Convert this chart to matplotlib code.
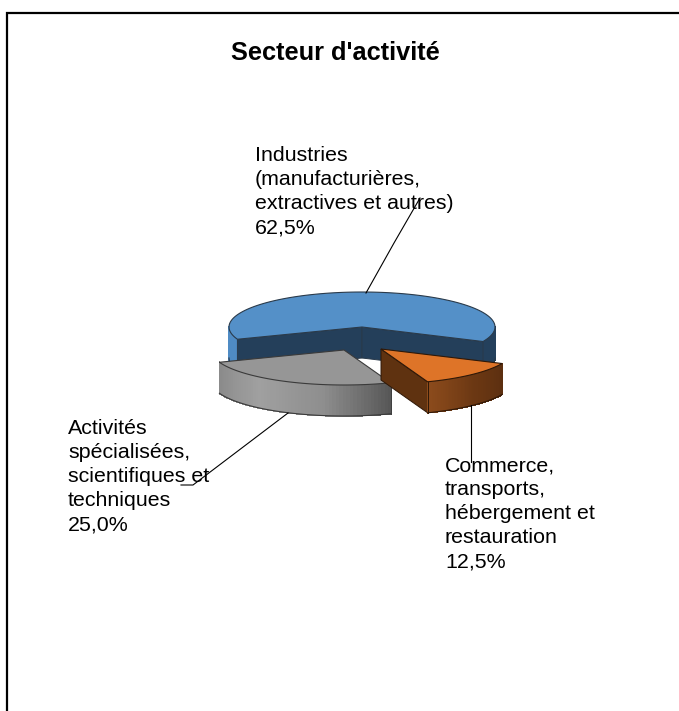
# Secteur d'activité - pseudo 3D exploded pie, drawn in pixel coordinates
import numpy as np
import matplotlib
matplotlib.use('Agg')
import matplotlib.pyplot as plt
from matplotlib.patches import Polygon
from matplotlib.colors import to_rgb

plt.rcParams['font.family'] = ['Liberation Sans', 'DejaVu Sans']

# data
sectors = ['Industries\n(manufacturières,\nextractives et autres)',
           'Commerce,\ntransports,\nhébergement et\nrestauration',
           'Activités\nspécialisées,\nscientifiques et\ntechniques']
shares = [62.5, 12.5, 25.0]
share_labels = ['62,5%', '12,5%', '25,0%']
title = "Secteur d'activité"

# layout, in pixels of the 679x711 picture
W, H = 679, 711
RX, RY, DEPTH = 133, 35, 31
START = 159.5
apexes = [(362, 327), (381, 349), (344, 350)]
label_pos = [(255, 146), (445, 456), (68, 419)]
leaders = [[(366, 293), (394, 243), (420, 198)],
           [(471, 405), (471, 462)],
           [(288, 413), (193, 485), (181, 485)]]
top_colors = ['#5490C8', '#DE7428', '#969696']
side_stops = [['#4F8BC4', '#24405C'],
              ['#8C4B1C', '#6C3813', '#5C2F10'],
              ['#8A8A8A', '#A0A0A0', '#8E8E8E', '#565656']]
edge_colors = ['#2A3A4A', '#2E1808', '#3A3A3A']
wall_colors = ['#243F5A', '#5F3210', None]

fig = plt.figure(figsize=(W / 100, H / 100), dpi=100)
ax = fig.add_axes([0, 0, 1, 1])
ax.set_xlim(0, W)
ax.set_ylim(H, 0)
ax.axis('off')

# frame runs off the right and bottom of the picture
ax.plot([W + 5, 7, 7], [13, 13, H + 5], color='black', lw=1.6, solid_joinstyle='miter')


def rim(apex, t0, t1, n=60):
    t = np.radians(np.linspace(t0, t1, n))
    return apex[0] + RX * np.cos(t), apex[1] + RY * np.sin(t)


def ramp(stops, f):
    pos = np.linspace(0, 1, len(stops))
    rgb = np.array([to_rgb(c) for c in stops])
    return [np.interp(f, pos, rgb[:, i]) for i in range(3)]


def outer_wall(apex, t0, t1, stops, edge, z):
    if t1 <= t0:
        return
    x, y = rim(apex, t0, t1)
    for i in range(len(x) - 1):
        quad = [(x[i], y[i]), (x[i + 1], y[i + 1]),
                (x[i + 1], y[i + 1] + DEPTH), (x[i], y[i] + DEPTH)]
        f = 1 - (i + 0.5) / (len(x) - 1)
        col = ramp(stops, f)
        ax.add_patch(Polygon(quad, fc=col, ec=col, lw=0.5, antialiased=False, zorder=z))
    ax.plot(x, y + DEPTH, color=edge, lw=0.8, zorder=z + 0.2)


def radial_wall(apex, t, color, edge, z):
    ex = apex[0] + RX * np.cos(np.radians(t))
    ey = apex[1] + RY * np.sin(np.radians(t))
    pts = [apex, (ex, ey), (ex, ey + DEPTH), (apex[0], apex[1] + DEPTH)]
    ax.add_patch(Polygon(pts, fc=color, ec=edge, lw=0.7, zorder=z))


def top_face(apex, t0, t1, color, edge, z):
    x, y = rim(apex, t0, t1, 120)
    pts = [apex] + list(zip(x, y))
    ax.add_patch(Polygon(pts, fc=color, ec=edge, lw=0.8, zorder=z))


angles = START + np.concatenate([[0], np.cumsum(shares)]) * 3.6

# blue slice: back part, both cut walls and the bits of rim that show
a0, a1 = angles[0], angles[1]
apex = apexes[0]
outer_wall(apex, a0, 180, [side_stops[0][0], side_stops[0][0]], edge_colors[0], 1)
outer_wall(apex, 360, a1, [side_stops[0][1], side_stops[0][1]], edge_colors[0], 1)
radial_wall(apex, a0, wall_colors[0], edge_colors[0], 1.5)
radial_wall(apex, a1, wall_colors[0], edge_colors[0], 1.5)
top_face(apex, a0, a1, top_colors[0], edge_colors[0], 2)

# grey slice
a0, a1 = angles[2] - 360, angles[3] - 360
apex = apexes[2]
outer_wall(apex, a0, a1, side_stops[2], edge_colors[2], 3)
top_face(apex, a0, a1, top_colors[2], edge_colors[2], 4)
xe, ye = rim(apex, a0, a0, 1)
ax.plot([xe[0], xe[0]], [ye[0], ye[0] + DEPTH], color=edge_colors[2], lw=0.7, zorder=4)

# orange slice
a0, a1 = angles[1] - 360, angles[2] - 360
apex = apexes[1]
radial_wall(apex, a1, wall_colors[1], edge_colors[1], 5)
outer_wall(apex, a0, a1, side_stops[1], edge_colors[1], 5.5)
top_face(apex, a0, a1, top_colors[1], edge_colors[1], 6)
xe, ye = rim(apex, a1, a1, 1)
ax.plot([xe[0], xe[0]], [ye[0], ye[0] + DEPTH], color=edge_colors[1], lw=0.7, zorder=6)

# leader lines and labels
for pts in leaders:
    ax.plot(*zip(*pts), color='black', lw=0.8, zorder=8)
for name, share, pos in zip(sectors, share_labels, label_pos):
    ax.text(pos[0], pos[1], name + '\n' + share, fontsize=15.4, ha='left', va='top',
            linespacing=1.34, color='black', zorder=7)

ax.text(335, 53, title, fontsize=18.3, fontweight='bold', ha='center', va='center')

fig.savefig('out.png', dpi=100)
